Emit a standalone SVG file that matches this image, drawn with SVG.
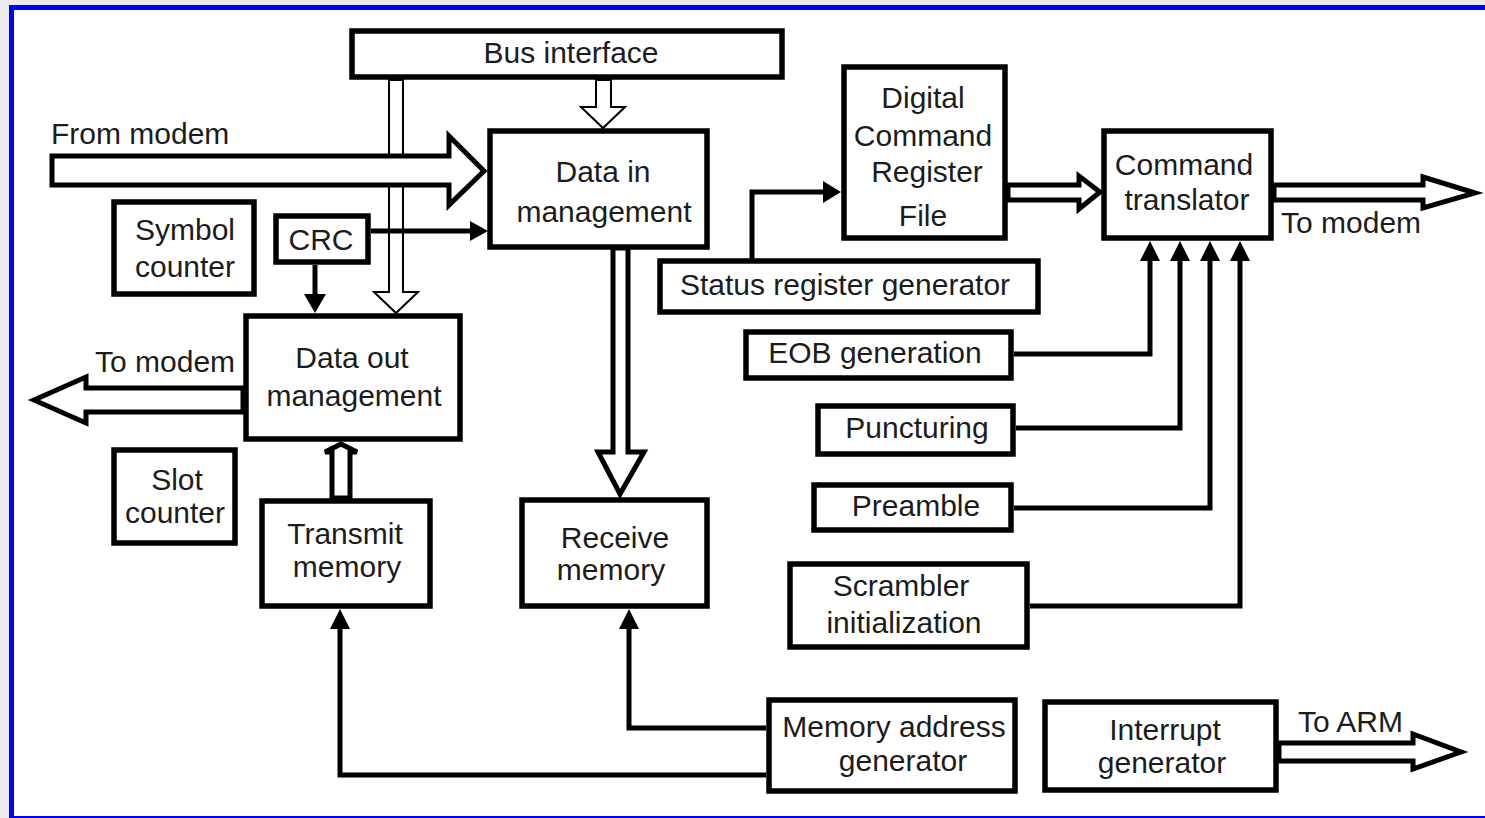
<svg xmlns="http://www.w3.org/2000/svg" width="1485" height="818" viewBox="0 0 1485 818">
  <style>
    .box { fill: #ffffff; stroke: #000000; stroke-width: 5.5; }
    .lbl { font-family: "Liberation Sans", Arial, sans-serif; font-size: 30px; fill: #1c1c1c; text-anchor: middle; }
    .lbl-s { font-family: "Liberation Sans", Arial, sans-serif; font-size: 30px; fill: #1c1c1c; text-anchor: start; }
    .wire { fill: none; stroke: #000000; stroke-width: 5; stroke-linejoin: miter; }
    .head { fill: #000000; stroke: none; }
    .bus { fill: #ffffff; stroke: #000000; stroke-width: 5; stroke-linejoin: miter; }
    .bus-thin { fill: #ffffff; stroke: #000000; stroke-width: 2; stroke-linejoin: miter; }
  </style>

  <!-- page frame -->
  <rect x="0" y="0" width="1485" height="818" fill="#ebebeb"/>
  <rect x="9" y="5" width="1476" height="813" fill="#0000ff"/>
  <rect x="14" y="10" width="1471" height="806" fill="#ffffff"/>

  <!-- connectors -->
  <g id="connectors">
    <!-- bus interface to data out (thin hollow) -->
    <polygon class="bus-thin" points="389,80 389,292 374,292 396,313 418,292 403,292 403,80"/>
    <!-- bus interface to data in (thin hollow) -->
    <polygon class="bus-thin" points="596,80 596,107 581,107 603,128 625,107 611,107 611,80"/>
    <!-- from modem -->
    <polygon class="bus" points="52,156 449,156 449,136 484,171 449,205 449,185 52,185"/>
    <!-- CRC to data in -->
    <line class="wire" x1="371" y1="231" x2="472" y2="231"/>
    <polygon class="head" points="470,221 488,231 470,241"/>
    <!-- CRC to data out -->
    <line class="wire" x1="315" y1="265" x2="315" y2="297"/>
    <polygon class="head" points="304,294 315,313 326,294"/>
    <!-- data in to receive memory -->
    <polygon class="bus" points="613,248 613,452 598,452 620,494 644,452 628,452 628,248"/>
    <!-- transmit memory to data out -->
    <polygon class="bus" points="332,498 332,452 325,452 341,444 357,452 350,452 350,498"/>
    <!-- data out to modem -->
    <polygon class="bus" points="243,388 86,388 86,377 34,400 86,423 86,412 243,412"/>
    <!-- status register generator to command register file -->
    <polyline class="wire" points="752,259 752,192 826,192"/>
    <polygon class="head" points="823,181 841,192 823,203"/>
    <!-- command register file to translator -->
    <polygon class="bus" points="1008,185 1079,185 1079,176 1100,192 1079,209 1079,200 1008,200"/>
    <!-- translator to modem -->
    <polygon class="bus" points="1274,185 1423,185 1423,177 1475,193 1423,208 1423,200 1274,200"/>
    <!-- EOB / puncturing / preamble / scrambler into translator -->
    <polyline class="wire" points="1014,354 1150,354 1150,258"/>
    <polygon class="head" points="1140,261 1150,241 1160,261"/>
    <polyline class="wire" points="1016,428 1180,428 1180,258"/>
    <polygon class="head" points="1170,261 1180,241 1190,261"/>
    <polyline class="wire" points="1014,508 1210,508 1210,258"/>
    <polygon class="head" points="1200,261 1210,241 1220,261"/>
    <polyline class="wire" points="1030,606 1240,606 1240,258"/>
    <polygon class="head" points="1230,261 1240,241 1250,261"/>
    <!-- memory address generator to memories -->
    <polyline class="wire" points="766,728 629,728 629,626"/>
    <polygon class="head" points="619,629 629,609 639,629"/>
    <polyline class="wire" points="766,775 340,775 340,626"/>
    <polygon class="head" points="330,629 340,609 350,629"/>
    <!-- interrupt generator to ARM -->
    <polygon class="bus" points="1279,743 1413,743 1413,734 1461,752 1413,769 1413,761 1279,761"/>
  </g>

  <!-- free labels -->
  <text class="lbl-s" x="51" y="144">From modem</text>
  <text class="lbl-s" x="95" y="372">To modem</text>
  <text class="lbl-s" x="1281" y="233">To modem</text>
  <text class="lbl-s" x="1298" y="732">To ARM</text>

  <g id="bus-interface">
    <rect class="box" x="352" y="31" width="430" height="46"/>
    <text class="lbl" x="571" y="63">Bus interface</text>
  </g>
  <g id="data-in-management">
    <rect class="box" x="490" y="131" width="217" height="116"/>
    <text class="lbl" x="603" y="182">Data in</text>
    <text class="lbl" x="604" y="222">management</text>
  </g>
  <g id="digital-command-register-file">
    <rect class="box" x="844" y="67" width="161" height="171"/>
    <text class="lbl" x="923" y="108">Digital</text>
    <text class="lbl" x="923" y="146">Command</text>
    <text class="lbl" x="927" y="182">Register</text>
    <text class="lbl" x="923" y="226">File</text>
  </g>
  <g id="command-translator">
    <rect class="box" x="1104" y="131" width="167" height="107"/>
    <text class="lbl" x="1184" y="175">Command</text>
    <text class="lbl" x="1187" y="210">translator</text>
  </g>
  <g id="status-register-generator">
    <rect class="box" x="660" y="261" width="378" height="51"/>
    <text class="lbl" x="845" y="295">Status register generator</text>
  </g>
  <g id="eob-generation">
    <rect class="box" x="746" y="332" width="265" height="46"/>
    <text class="lbl" x="875" y="363">EOB generation</text>
  </g>
  <g id="puncturing">
    <rect class="box" x="818" y="406" width="195" height="48"/>
    <text class="lbl" x="917" y="438">Puncturing</text>
  </g>
  <g id="preamble">
    <rect class="box" x="814" y="485" width="197" height="45"/>
    <text class="lbl" x="916" y="516">Preamble</text>
  </g>
  <g id="scrambler-initialization">
    <rect class="box" x="790" y="564" width="237" height="83"/>
    <text class="lbl" x="901" y="596">Scrambler</text>
    <text class="lbl" x="904" y="633">initialization</text>
  </g>
  <g id="symbol-counter">
    <rect class="box" x="114" y="202" width="140" height="92"/>
    <text class="lbl" x="185" y="240">Symbol</text>
    <text class="lbl" x="185" y="277">counter</text>
  </g>
  <g id="crc">
    <rect class="box" x="276" y="216" width="92" height="46"/>
    <text class="lbl" x="321" y="250">CRC</text>
  </g>
  <g id="data-out-management">
    <rect class="box" x="246" y="316" width="214" height="123"/>
    <text class="lbl" x="352" y="368">Data out</text>
    <text class="lbl" x="354" y="406">management</text>
  </g>
  <g id="slot-counter">
    <rect class="box" x="114" y="450" width="121" height="93"/>
    <text class="lbl" x="177" y="490">Slot</text>
    <text class="lbl" x="175" y="523">counter</text>
  </g>
  <g id="transmit-memory">
    <rect class="box" x="262" y="501" width="168" height="105"/>
    <text class="lbl" x="345" y="544">Transmit</text>
    <text class="lbl" x="347" y="577">memory</text>
  </g>
  <g id="receive-memory">
    <rect class="box" x="522" y="500" width="185" height="106"/>
    <text class="lbl" x="615" y="548">Receive</text>
    <text class="lbl" x="611" y="580">memory</text>
  </g>
  <g id="memory-address-generator">
    <rect class="box" x="769" y="700" width="246" height="91"/>
    <text class="lbl" x="894" y="737">Memory address</text>
    <text class="lbl" x="903" y="771">generator</text>
  </g>
  <g id="interrupt-generator">
    <rect class="box" x="1045" y="702" width="231" height="88"/>
    <text class="lbl" x="1165" y="740">Interrupt</text>
    <text class="lbl" x="1162" y="773">generator</text>
  </g>
</svg>
